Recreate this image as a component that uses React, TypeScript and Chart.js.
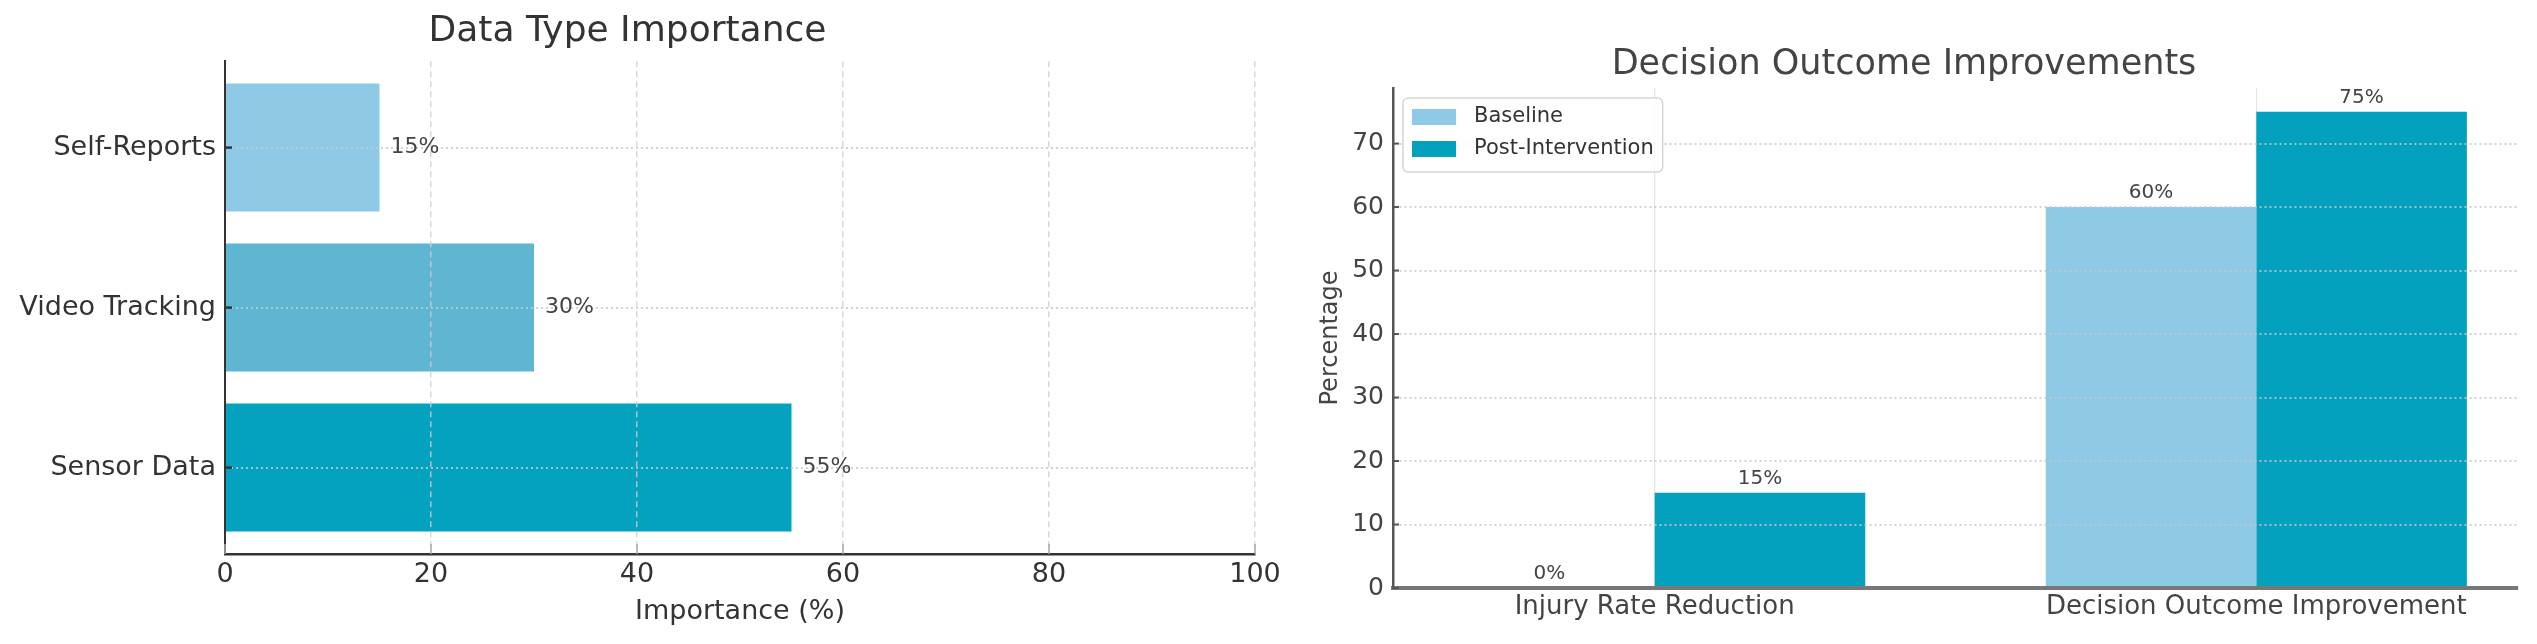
import React, { useEffect, useRef } from 'react';
import { Chart, registerables } from 'chart.js';

Chart.register(...registerables);

const FONT = "'DejaVu Sans', 'Liberation Sans', Arial, sans-serif";
Chart.defaults.font.family = FONT;

// ---- Left chart: Data Type Importance ----
const typeCategories = ['Sensor Data', 'Video Tracking', 'Self-Reports'];
const typeValues = [55, 30, 15];
const typeColors = ['#05A2C0', '#5EB6D3', '#8ECAE6'];
const importanceTicks = [0, 20, 40, 60, 80, 100];
const importanceRange = [0, 100];
const typeIndexRange = [-0.54, 2.54];

// ---- Right chart: Decision Outcome Improvements ----
const outcomeCategories = ['Injury Rate Reduction', 'Decision Outcome Improvement'];
const seriesLabels = ['Baseline', 'Post-Intervention'];
const baselineValues = [0, 60];
const postValues = [15, 75];
const seriesColors = ['#8ECAE6', '#04A1BF'];
const percentageTicks = [0, 10, 20, 30, 40, 50, 60, 70];
const percentageRange = [0, 78.75];
const outcomeIndexRange = [-0.435, 1.435];

const H = 644;

const valueLabelsPlugin = {
  id: 'valueLabels',
  afterDraw(chart: any, _args: any, opts: any) {
    const ctx = chart.ctx;
    ctx.save();
    ctx.font = `${opts.size}px ${FONT}`;
    ctx.fillStyle = opts.color;
    chart.data.datasets.forEach((_ds: any, di: number) => {
      const meta = chart.getDatasetMeta(di);
      meta.data.forEach((el: any, i: number) => {
        const parsed = meta.controller.getParsed(i);
        if (opts.horizontal) {
          ctx.textAlign = 'left';
          ctx.textBaseline = 'middle';
          ctx.fillText(`${parsed.x}%`, el.x + opts.offset, el.y);
        } else {
          ctx.textAlign = 'center';
          ctx.textBaseline = 'bottom';
          ctx.fillText(`${parsed.y}%`, el.x, el.y - opts.offset);
        }
      });
    });
    ctx.restore();
  },
};

const innerTicksPlugin = {
  id: 'innerTicks',
  afterDraw(chart: any, _args: any, opts: any) {
    const ctx = chart.ctx;
    (opts.items || []).forEach((it: any) => {
      const scale = chart.scales[it.scale];
      if (!scale) return;
      ctx.save();
      ctx.strokeStyle = it.color;
      ctx.lineWidth = it.width;
      scale.ticks.forEach((t: any) => {
        const p = scale.getPixelForValue(t.value);
        ctx.beginPath();
        if (scale.isHorizontal()) {
          ctx.moveTo(p, scale.top);
          ctx.lineTo(p, scale.top - it.length);
        } else {
          ctx.moveTo(scale.right, p);
          ctx.lineTo(scale.right + it.length, p);
        }
        ctx.stroke();
      });
      ctx.restore();
    });
  },
};

const boxLegendPlugin = {
  id: 'boxLegend',
  afterDraw(chart: any, _args: any, o: any) {
    const ctx = chart.ctx;
    const ca = chart.chartArea;
    ctx.save();
    ctx.font = `${o.size}px ${FONT}`;
    const items = chart.data.datasets.map((d: any) => ({ text: d.label, color: d.backgroundColor }));
    const textW = Math.max(...items.map((i: any) => ctx.measureText(i.text).width));
    const x0 = ca.left + o.inset;
    const y0 = ca.top + o.inset;
    const w = o.padding * 2 + o.swatchW + o.gap + textW;
    const h = items.length * o.rowH + 10;
    ctx.fillStyle = 'rgba(255,255,255,0.85)';
    ctx.strokeStyle = '#d6d6d6';
    ctx.lineWidth = 1.5;
    ctx.beginPath();
    ctx.roundRect(x0, y0, w, h, 5);
    ctx.fill();
    ctx.stroke();
    items.forEach((it: any, i: number) => {
      const cy = y0 + 3 + o.rowH / 2 + i * o.rowH;
      ctx.fillStyle = it.color;
      ctx.fillRect(x0 + o.padding, cy - o.swatchH / 2, o.swatchW, o.swatchH);
      ctx.fillStyle = o.color;
      ctx.textAlign = 'left';
      ctx.textBaseline = 'middle';
      ctx.fillText(it.text, x0 + o.padding + o.swatchW + o.gap, cy);
    });
    ctx.restore();
  },
};

const leftConfig = (): any => ({
  type: 'bar',
  data: {
    datasets: [
      {
        label: 'Importance',
        data: typeValues.map((v, i) => ({ x: v, y: i })),
        backgroundColor: typeColors,
        borderWidth: 0,
        categoryPercentage: 0.8,
        barPercentage: 1,
      },
    ],
  },
  options: {
    indexAxis: 'y',
    responsive: false,
    animation: false,
    devicePixelRatio: 1,
    events: [],
    layout: { padding: { left: 0, right: 225, top: 0, bottom: 0 } },
    plugins: {
      legend: { display: false },
      tooltip: { enabled: false },
      title: {
        display: true,
        text: 'Data Type Importance',
        color: '#333',
        font: { size: 36, weight: 'normal', lineHeight: 1.2 },
        padding: { top: 10, bottom: 8 },
      },
      valueLabels: { size: 22, color: '#444', offset: 11, horizontal: true },
      innerTicks: {
        items: [
          { scale: 'y', color: '#333', width: 2.5, length: 7 },
          { scale: 'x', color: '#aaa', width: 1.5, length: 10 },
        ],
      },
    },
    scales: {
      x: {
        type: 'linear',
        position: 'bottom',
        offset: false,
        min: importanceRange[0],
        max: importanceRange[1],
        afterBuildTicks: (s: any) => {
          s.ticks = importanceTicks.map((value) => ({ value }));
        },
        afterFit: (s: any) => {
          s.height = 90;
        },
        ticks: { color: '#333', font: { size: 27 }, padding: 5, maxRotation: 0, autoSkip: false },
        grid: { color: 'rgba(205,205,205,0.8)', lineWidth: 1.5, drawTicks: false, offset: false, z: 1 },
        border: { display: true, color: '#333', width: 2.5, dash: [6, 4], z: 2 },
        title: {
          display: true,
          text: 'Importance (%)',
          color: '#333',
          font: { size: 27 },
          padding: { top: 0, bottom: 16 },
        },
      },
      y: {
        type: 'linear',
        position: 'left',
        offset: false,
        min: typeIndexRange[0],
        max: typeIndexRange[1],
        afterBuildTicks: (s: any) => {
          s.ticks = typeCategories.map((_c, i) => ({ value: i }));
        },
        afterFit: (s: any) => {
          s.width = 225;
        },
        ticks: {
          color: '#333',
          font: { size: 27 },
          padding: 9,
          autoSkip: false,
          callback: (v: any) => typeCategories[v],
        },
        grid: { color: 'rgba(200,200,200,0.8)', lineWidth: 2, drawTicks: false, offset: false, z: 1 },
        border: { display: true, color: '#333', width: 2, dash: [2, 3], z: 2 },
      },
    },
  },
  plugins: [valueLabelsPlugin, innerTicksPlugin],
});

const rightConfig = (): any => ({
  type: 'bar',
  data: {
    datasets: [
      {
        label: seriesLabels[0],
        data: baselineValues.map((y, i) => ({ x: i, y })),
        backgroundColor: seriesColors[0],
        borderWidth: 0,
        categoryPercentage: 0.7,
        barPercentage: 1,
      },
      {
        label: seriesLabels[1],
        data: postValues.map((y, i) => ({ x: i, y })),
        backgroundColor: seriesColors[1],
        borderWidth: 0,
        categoryPercentage: 0.7,
        barPercentage: 1,
      },
    ],
  },
  options: {
    responsive: false,
    animation: false,
    devicePixelRatio: 1,
    events: [],
    layout: { padding: { left: 0, right: 103, top: 0, bottom: 0 } },
    plugins: {
      legend: { display: false },
      tooltip: { enabled: false },
      title: {
        display: true,
        text: 'Decision Outcome Improvements',
        color: '#444',
        font: { size: 35, weight: 'normal', lineHeight: 1.2 },
        padding: { top: 44, bottom: 2 },
      },
      valueLabels: { size: 20, color: '#444', offset: 4, horizontal: false },
      innerTicks: { items: [{ scale: 'y', color: '#555', width: 2, length: 6 }] },
      boxLegend: { size: 21, color: '#333', inset: 10, padding: 9, swatchW: 44, swatchH: 16, gap: 18, rowH: 32 },
    },
    scales: {
      x: {
        type: 'linear',
        position: 'bottom',
        offset: false,
        min: outcomeIndexRange[0],
        max: outcomeIndexRange[1],
        afterBuildTicks: (s: any) => {
          s.ticks = outcomeCategories.map((_c, i) => ({ value: i }));
        },
        afterFit: (s: any) => {
          s.height = 56;
        },
        ticks: {
          color: '#444',
          font: { size: 26 },
          padding: 4,
          maxRotation: 0,
          minRotation: 0,
          autoSkip: false,
          callback: (v: any) => outcomeCategories[v],
        },
        grid: { color: '#e4e4e4', lineWidth: 1.2, drawTicks: false, offset: false, z: -1 },
        border: { display: true, color: '#777', width: 4, z: 2 },
      },
      y: {
        type: 'linear',
        position: 'left',
        offset: false,
        min: percentageRange[0],
        max: percentageRange[1],
        afterBuildTicks: (s: any) => {
          s.ticks = percentageTicks.map((value) => ({ value }));
        },
        afterFit: (s: any) => {
          s.width = 103;
        },
        ticks: { color: '#444', font: { size: 25 }, padding: 9, autoSkip: false },
        grid: { color: 'rgba(200,200,200,0.8)', lineWidth: 2, drawTicks: false, offset: false, z: 1 },
        border: { display: true, color: '#555', width: 2.5, dash: [2, 3], z: 2 },
        title: {
          display: true,
          text: 'Percentage',
          color: '#444',
          font: { size: 24 },
          padding: { top: 26, bottom: 0 },
        },
      },
    },
  },
  plugins: [valueLabelsPlugin, innerTicksPlugin, boxLegendPlugin],
});

function ChartPanel({ left, width, build }: { left: number; width: number; build: () => any }) {
  const ref = useRef<HTMLCanvasElement>(null);
  useEffect(() => {
    const chart = new Chart(ref.current as HTMLCanvasElement, build());
    return () => chart.destroy();
  }, [build]);
  return (
    <canvas
      ref={ref}
      width={width}
      height={H}
      style={{ position: 'absolute', left, top: 0, width, height: H }}
    />
  );
}

export default function App() {
  return (
    <div
      style={{
        position: 'fixed',
        left: 0,
        top: 0,
        width: 2537,
        height: H,
        overflow: 'hidden',
        background: '#fff',
      }}
    >
      <ChartPanel left={0} width={1480} build={leftConfig} />
      <ChartPanel left={1290} width={1331} build={rightConfig} />
    </div>
  );
}
